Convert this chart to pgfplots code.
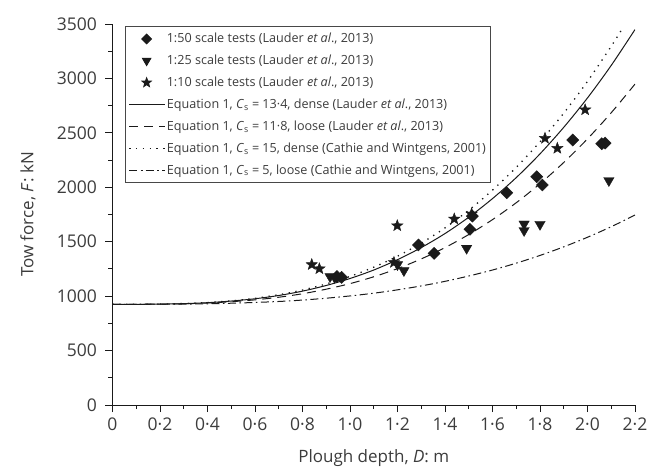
\documentclass[border=0pt]{standalone}
\usepackage{pgfplots}
\pgfplotsset{compat=1.18}
\usepackage{fontspec}
\setmainfont{Open Sans}
\setsansfont{Open Sans}
\definecolor{ink}{HTML}{1A1A1A}
\pgfdeclareplotmark{fstar}{%
  \pgfpathmoveto{\pgfpointpolar{90}{\pgfplotmarksize}}%
  \pgfpathlineto{\pgfpointpolar{126}{0.42\pgfplotmarksize}}%
  \pgfpathlineto{\pgfpointpolar{162}{\pgfplotmarksize}}%
  \pgfpathlineto{\pgfpointpolar{198}{0.42\pgfplotmarksize}}%
  \pgfpathlineto{\pgfpointpolar{234}{\pgfplotmarksize}}%
  \pgfpathlineto{\pgfpointpolar{270}{0.42\pgfplotmarksize}}%
  \pgfpathlineto{\pgfpointpolar{306}{\pgfplotmarksize}}%
  \pgfpathlineto{\pgfpointpolar{342}{0.42\pgfplotmarksize}}%
  \pgfpathlineto{\pgfpointpolar{18}{\pgfplotmarksize}}%
  \pgfpathlineto{\pgfpointpolar{54}{0.42\pgfplotmarksize}}%
  \pgfpathclose
  \pgfusepathqfillstroke}
\begin{document}
\begin{tikzpicture}
\begin{axis}[
  scale only axis, width=522.5pt, height=381pt,
  xmin=0, xmax=2.2, ymin=0, ymax=3500,
  axis lines=left, axis line style={-, ink, line width=0.9pt},
  y axis line style={shorten <=-7pt},
  tick align=outside,
  major tick length=7pt, minor tick length=4pt,
  every tick/.style={ink, line width=0.9pt},
  xtick={0,0.2,0.4,0.6,0.8,1.0,1.2,1.4,1.6,1.8,2.0,2.2},
  xticklabels={0,0·2,0·4,0·6,0·8,1·0,1·2,1·4,1·6,1·8,2·0,2·2},
  minor x tick num=1,
  ytick={0,500,1000,1500,2000,2500,3000,3500},
  yticklabels={0,500,1000,1500,2000,2500,3000,3500},
  minor y tick num=1,
  tick label style={font=\fontsize{17.5}{20}\selectfont, text=ink!85},
  yticklabel style={xshift=-5pt},
  xticklabel style={yshift=-2.5pt},
  xlabel={Plough depth, \textit{D}: m},
  ylabel={Tow force, \textit{F}: kN},
  label style={font=\fontsize{17}{20}\selectfont, text=ink!85},
  xlabel style={at={(axis description cs:0.5,-0.139)}, anchor=center},
  ylabel style={at={(axis description cs:-0.162,0.5)}, anchor=center},
  clip=true,
  legend cell align=left,
  legend style={at={(0.024,0.995)}, anchor=north west, draw=ink!80, line width=0.9pt,
    font=\fontsize{12.6}{15}\selectfont, text=ink!85, row sep=6.8pt,
    inner xsep=3pt, inner ysep=5pt},
  legend image code/.code={\draw[mark repeat=2,mark phase=2,#1,every mark/.append style={scale=0.8}] plot coordinates {(0pt,0pt)(17.5pt,0pt)(35pt,0pt)};},
]
\coordinate (O) at (rel axis cs:0,0);
% 1:50 scale tests
\addplot[only marks, mark=square*, mark size=4.3pt, ink, mark options={rotate=45, fill=ink}] coordinates {
(0.945,1180) (0.965,1172) (1.288,1470) (1.354,1393) (1.505,1614) (1.515,1735)
(1.66,1950) (1.786,2097) (1.81,2021) (1.938,2434) (2.06,2400) (2.074,2406)};
\addlegendentry{1:50 scale tests (Lauder \textit{et al}., 2013)}
% 1:25 scale tests
\addplot[only marks, mark=triangle*, mark size=6pt, ink, mark options={rotate=180, fill=ink}] coordinates {
(0.916,1180) (0.935,1172) (1.20,1290) (1.227,1235) (1.491,1440)
(1.733,1663) (1.733,1603) (1.80,1660) (2.09,2062)};
\addlegendentry{1:25 scale tests (Lauder \textit{et al}., 2013)}
% 1:10 scale tests
\addplot[only marks, mark=fstar, mark size=6pt, ink, mark options={fill=ink}] coordinates {
(0.839,1290) (0.871,1252) (1.185,1310) (1.199,1647) (1.439,1709) (1.512,1755)
(1.821,2450) (1.873,2358) (1.99,2712)};
\addlegendentry{1:10 scale tests (Lauder \textit{et al}., 2013)}
% Cs = 13.4 dense
\addplot[ink, line width=1pt, smooth] coordinates {
(0,925) (0.1,925) (0.2,927) (0.3,931) (0.4,940) (0.5,955) (0.6,976) (0.7,1006)
(0.8,1046) (0.9,1098) (1.0,1162) (1.1,1240) (1.2,1335) (1.3,1446) (1.4,1575)
(1.5,1725) (1.6,1896) (1.7,2089) (1.8,2307) (1.9,2551) (2.0,2821) (2.1,3120) (2.2,3449)};
\addlegendentry{Equation 1, \textit{C}\textsubscript{s} = 13·4, dense (Lauder \textit{et al}., 2013)}
% Cs = 11.8 loose
\addplot[ink, line width=1pt, smooth, dash pattern=on 9pt off 6pt] coordinates {
(0,925) (0.1,925) (0.2,927) (0.3,930) (0.4,937) (0.5,949) (0.6,966) (0.7,990)
(0.8,1022) (0.9,1064) (1.0,1115) (1.1,1178) (1.2,1253) (1.3,1342) (1.4,1446)
(1.5,1566) (1.6,1703) (1.7,1858) (1.8,2033) (1.9,2228) (2.0,2445) (2.1,2685) (2.2,2948)};
\addlegendentry{Equation 1, \textit{C}\textsubscript{s} = 11·8, loose (Lauder \textit{et al}., 2013)}
% Cs = 15 dense
\addplot[ink, line width=1.3pt, smooth, dash pattern=on 1.3pt off 5.5pt] coordinates {
(0,925) (0.1,925) (0.2,927) (0.3,932) (0.4,941) (0.5,957) (0.6,980) (0.7,1013)
(0.8,1056) (0.9,1112) (1.0,1181) (1.1,1266) (1.2,1367) (1.3,1487) (1.4,1627)
(1.5,1789) (1.6,1974) (1.7,2183) (1.8,2418) (1.9,2681) (2.0,2973) (2.1,3296) (2.145,3451)};
\addlegendentry{Equation 1, \textit{C}\textsubscript{s} = 15, dense (Cathie and Wintgens, 2001)}
% Cs = 5 loose
\addplot[ink, line width=1pt, smooth, dash pattern=on 8pt off 3.5pt on 1.5pt off 3.5pt] coordinates {
(0,925) (0.1,925) (0.2,926) (0.3,927) (0.4,930) (0.5,935) (0.6,942) (0.7,951)
(0.8,964) (0.9,981) (1.0,1002) (1.1,1027) (1.2,1058) (1.3,1094) (1.4,1136)
(1.5,1185) (1.6,1240) (1.7,1303) (1.8,1374) (1.9,1453) (2.0,1541) (2.1,1638) (2.2,1745)};
\addlegendentry{Equation 1, \textit{C}\textsubscript{s} = 5, loose (Cathie and Wintgens, 2001)}
\end{axis}
\pgfresetboundingbox
\useasboundingbox ([shift={(-112.5pt,-64pt)}]O) rectangle ([shift={(535.5pt,405pt)}]O);
\end{tikzpicture}
\end{document}
